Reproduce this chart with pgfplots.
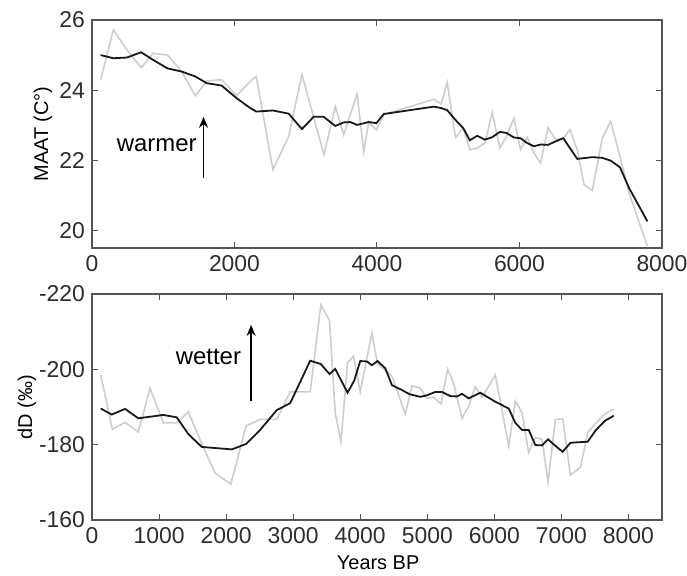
\documentclass[border=0pt]{standalone}
\usepackage{fontspec}
\setmainfont{Liberation Sans}
\usepackage{pgfplots}
\pgfplotsset{compat=1.18}
\usetikzlibrary{arrows.meta}
\definecolor{axgray}{RGB}{85,85,85}
\definecolor{txtgray}{RGB}{45,45,45}
\definecolor{rawgray}{RGB}{205,205,205}
\newcommand{\lblfont}{\fontsize{11.5}{13.5}\selectfont}
\newcommand{\notefont}{\fontsize{12}{14}\selectfont}

\pgfplotsset{
  paleo/.style={
    scale only axis, width=285bp,
    xmin=0, xmax=8000,
    axis line style={draw=axgray, line width=0.6pt},
    tick style={draw=axgray, line width=0.5pt},
    tick align=inside, major tick length=3bp,
    ticklabel style={text=txtgray, font=\lblfont},
    label style={text=txtgray, font=\lblfont},
    /pgf/number format/assume math mode=true,
    /pgf/number format/1000 sep={},
    clip=true,
  },
  raw/.style={draw=rawgray, line width=0.8pt, mark=none},
  smooth5/.style={draw=black!90, line width=0.9pt, mark=none},
}

\begin{document}
\begin{tikzpicture}
% ---------- MAAT ----------
\begin{axis}[paleo, at={(0,0)}, anchor=south west, height=114bp,
    ymin=19.5, ymax=26,
    xtick={0,2000,4000,6000,8000},
    ytick={20,22,24,26},
    ylabel={MAAT (C°)},
    every axis y label/.style={at={(axis description cs:-0.086,0.5)}, rotate=90, anchor=center},
]
\addplot[raw] table {
x y
120 24.29
300 25.72
490 25.15
690 24.64
860 25.05
1060 25.00
1260 24.53
1450 23.84
1610 24.26
1820 24.30
2030 23.84
2221 24.25
2305 24.39
2540 21.73
2760 22.68
2947 24.45
3255 22.16
3415 23.53
3532 22.73
3720 23.89
3814 22.25
3883 23.08
3992 22.87
4095 23.30
4798 23.74
4900 23.60
4985 24.22
5102 22.65
5210 22.92
5303 22.30
5407 22.35
5514 22.49
5618 23.36
5725 22.35
5818 22.68
5922 23.20
6015 22.30
6109 22.66
6203 22.21
6297 21.92
6400 22.92
6507 22.59
6615 22.63
6709 22.87
6811 22.30
6905 21.31
7022 21.14
7162 22.63
7280 23.11
7411 22.10
7538 21.07
7795 19.55
};
\addplot[smooth5] table {
x y
120 25.00
300 24.91
490 24.93
690 25.08
860 24.86
1060 24.62
1260 24.53
1450 24.39
1610 24.20
1820 24.13
2030 23.77
2221 23.49
2305 23.39
2540 23.42
2760 23.33
2947 22.89
3110 23.24
3251 23.24
3415 22.98
3532 23.08
3626 23.09
3720 23.01
3883 23.09
3992 23.06
4095 23.32
4329 23.39
4798 23.53
4900 23.49
4985 23.43
5102 23.15
5210 22.92
5303 22.57
5407 22.70
5514 22.59
5618 22.66
5725 22.81
5818 22.78
5922 22.65
6015 22.63
6109 22.49
6203 22.40
6297 22.45
6400 22.44
6507 22.54
6615 22.63
6811 22.04
7022 22.09
7162 22.07
7280 21.99
7411 21.80
7538 21.21
7795 20.26
};
\node[font=\notefont, text=black] at (axis cs:909,22.42) {warmer};
\draw[-{Stealth[length=5.5bp,width=4.5bp]}, line width=0.8pt] (axis cs:1565,21.5) -- (axis cs:1565,23.24);
\end{axis}

% ---------- dD ----------
\begin{axis}[paleo, at={(0,-136bp)}, anchor=south west, height=113bp,
    xmax=8500,
    ymin=-220, ymax=-160, y dir=reverse,
    xtick={0,1000,...,8000},
    ytick={-220,-200,-180,-160},
    ylabel={dD (‰)},
    xlabel={Years BP},
    every axis y label/.style={at={(axis description cs:-0.114,0.5)}, rotate=90, anchor=center},
    every axis x label/.style={at={(axis description cs:0.502,0)}, yshift=-21.5bp, anchor=center},
]
\addplot[raw] table {
x y
130 -198.5
303 -184.1
493 -185.9
691 -183.4
866 -195.0
1064 -185.8
1264 -185.8
1437 -188.7
1637 -180.2
1836 -172.5
2070 -169.5
2299 -185.0
2507 -186.7
2756 -186.7
2955 -194.0
3254 -194.0
3413 -217.1
3542 -212.9
3627 -188.5
3712 -180.8
3811 -201.8
3900 -203.5
4000 -194.0
4174 -209.6
4258 -201.5
4473 -198.2
4672 -188.1
4771 -195.6
4896 -195.0
4995 -192.3
5095 -192.6
5204 -190.8
5303 -200.0
5393 -196.3
5517 -187.0
5617 -190.3
5716 -195.4
5816 -192.6
6015 -198.5
6214 -179.6
6313 -191.6
6413 -188.5
6512 -177.9
6612 -181.9
6711 -181.4
6801 -170.1
6910 -186.7
7019 -186.9
7134 -171.9
7284 -174.0
7393 -183.2
7507 -185.6
7646 -188.1
7781 -189.4
};
\addplot[smooth5] table {
x y
130 -189.6
294 -188.0
493 -189.5
691 -187.0
1064 -187.9
1264 -187.25
1437 -182.8
1637 -179.4
2085 -178.75
2299 -180.2
2507 -183.9
2756 -189.2
2955 -191.0
3254 -202.3
3413 -201.4
3542 -198.75
3627 -200.1
3811 -193.8
3910 -197.0
4000 -202.2
4100 -202.1
4174 -201.1
4258 -202.2
4373 -200.3
4473 -195.8
4622 -194.5
4736 -193.4
4896 -192.7
4995 -193.1
5119 -194.0
5219 -194.0
5343 -192.9
5443 -192.8
5517 -193.5
5617 -192.3
5791 -193.8
6015 -191.4
6214 -189.6
6313 -185.8
6413 -183.9
6512 -183.9
6612 -179.9
6711 -179.8
6801 -181.4
6910 -179.7
7019 -178.1
7134 -180.5
7393 -180.8
7507 -183.7
7646 -186.3
7781 -187.7
};
\node[font=\notefont, text=black] at (axis cs:1736,-203.2) {wetter};
\draw[-{Stealth[length=5.5bp,width=4.5bp]}, line width=0.8pt] (axis cs:2373,-191.7) -- (axis cs:2373,-211.8);
\end{axis}

\pgfresetboundingbox
\path (-46bp,124bp) rectangle (297.5bp,-164bp);
\end{tikzpicture}
\end{document}
